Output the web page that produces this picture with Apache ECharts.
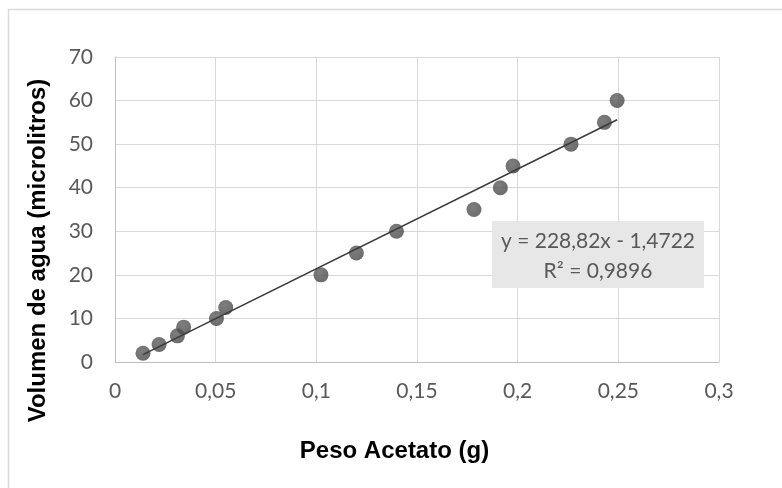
<!DOCTYPE html>
<html>
<head>
<meta charset="utf-8">
<script src="https://cdn.jsdelivr.net/npm/echarts@6/dist/echarts.min.js"></script>
<style>
  html, body { margin: 0; padding: 0; background: #fff; }
  #chart { width: 782px; height: 488px; }
</style>
</head>
<body>
<div id="chart"></div>
<script>
// Weight of acetate sheet (g) vs. volume of water absorbed (µL)
const pesoAcetato = [0.0139, 0.0219, 0.0310, 0.0341, 0.0504, 0.0550, 0.1023, 0.1199, 0.1398, 0.1783, 0.1914, 0.1977, 0.2265, 0.2431, 0.2494];
const volumenAgua = [2, 4, 6, 8, 10, 12.5, 20, 25, 30, 35, 40, 45, 50, 55, 60];

// Linear trend line coefficients and fit quality
const slope = 228.82;
const intercept = -1.4722;
const rSquared = 0.9896;

const xTicks = [0, 0.05, 0.1, 0.15, 0.2, 0.25, 0.3];
const yTicks = [0, 10, 20, 30, 40, 50, 60, 70];

const fmt = (v, d) => v.toFixed(d).replace('.', ',');
const points = pesoAcetato.map((x, i) => [x, volumenAgua[i]]);
const xMin = Math.min(...pesoAcetato);
const xMax = Math.max(...pesoAcetato);
const trend = [[xMin, slope * xMin + intercept], [xMax, slope * xMax + intercept]];

const tickFont = 'Lato, "Open Sans", sans-serif';
const chart = echarts.init(document.getElementById('chart'), null, { renderer: 'canvas' });

chart.setOption({
  animation: false,
  backgroundColor: '#ffffff',
  grid: { left: 115, top: 57, right: 63, bottom: 126, containLabel: false },
  xAxis: {
    type: 'value',
    min: xTicks[0],
    max: xTicks[xTicks.length - 1],
    interval: 0.05,
    axisLine: { show: true, lineStyle: { color: '#bfbfbf', width: 1 } },
    axisTick: { show: false },
    splitLine: { show: true, lineStyle: { color: '#d9d9d9', width: 1 } },
    axisLabel: {
      margin: 19,
      color: '#595959',
      fontFamily: tickFont,
      fontSize: 21,
      formatter: v => xTicks.includes(+v.toFixed(2)) ? String(+v.toFixed(2)).replace('.', ',') : ''
    }
  },
  yAxis: {
    type: 'value',
    min: yTicks[0],
    max: yTicks[yTicks.length - 1],
    interval: 10,
    axisLine: { show: true, lineStyle: { color: '#bfbfbf', width: 1 } },
    axisTick: { show: false },
    splitLine: { show: true, lineStyle: { color: '#d9d9d9', width: 1 } },
    axisLabel: {
      margin: 22,
      color: '#595959',
      fontFamily: tickFont,
      fontSize: 21
    }
  },
  series: [
    {
      name: 'Volumen',
      type: 'scatter',
      data: points,
      symbol: 'circle',
      symbolSize: 15,
      z: 3,
      itemStyle: {
        color: {
          type: 'radial', x: 0.4, y: 0.35, r: 0.7,
          colorStops: [
            { offset: 0, color: '#5e5e5e' },
            { offset: 1, color: '#464646' }
          ]
        }
      }
    },
    {
      name: 'Lineal',
      type: 'line',
      data: trend,
      symbol: 'none',
      z: 4,
      lineStyle: { color: '#3a3a3a', width: 1.5 }
    }
  ],
  graphic: {
    elements: [
      // outer chart frame
      {
        type: 'polyline', z: 100,
        shape: { points: [[8.5, 488], [8.5, 9.5], [782, 9.5]] },
        style: { stroke: '#d9d9d9', lineWidth: 1.5, fill: null }
      },
      // trend line equation box
      {
        type: 'rect', z: 100, x: 492, y: 221,
        shape: { x: 0, y: 0, width: 212, height: 67 },
        style: { fill: '#e7e7e7' }
      },
      {
        type: 'text', z: 101, x: 598, y: 241.5,
        style: {
          text: 'y = ' + fmt(slope, 2) + 'x - ' + fmt(Math.abs(intercept), 4),
          fill: '#595959', font: '21px ' + tickFont, align: 'center', verticalAlign: 'middle'
        }
      },
      {
        type: 'text', z: 101, x: 598, y: 271,
        style: {
          text: 'R² = ' + fmt(rSquared, 4),
          fill: '#595959', font: '21px ' + tickFont, align: 'center', verticalAlign: 'middle'
        }
      },
      // axis titles
      {
        type: 'text', x: 394.5, y: 451, z: 100,
        style: {
          text: 'Peso Acetato (g)', fill: '#000000',
          font: 'bold 24px "Liberation Sans", Arial, sans-serif', align: 'center', verticalAlign: 'middle'
        }
      },
      {
        type: 'text', x: 38, y: 250.5, rotation: Math.PI / 2, z: 100,
        style: {
          text: 'Volumen de agua (microlitros)', fill: '#000000',
          font: 'bold 24px "Liberation Sans", Arial, sans-serif', align: 'center', verticalAlign: 'middle'
        }
      }
    ]
  }
});
</script>
</body>
</html>
